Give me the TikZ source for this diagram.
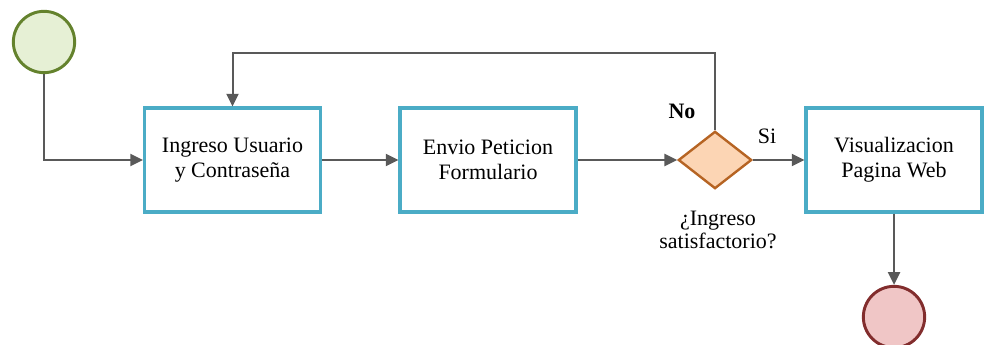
\documentclass[tikz,border=0pt]{standalone}
\usepackage{fontspec}
\setmainfont{Liberation Serif}
\newfontfamily\diagfont{Liberation Serif}
\usetikzlibrary{shapes.geometric,arrows.meta}

\definecolor{startfill}{RGB}{230,240,213}
\definecolor{startline}{RGB}{100,130,45}
\definecolor{taskline}{RGB}{75,172,198}
\definecolor{gatefill}{RGB}{252,213,180}
\definecolor{gateline}{RGB}{182,100,35}
\definecolor{endfill}{RGB}{240,198,198}
\definecolor{endline}{RGB}{130,45,45}
\definecolor{flowgray}{RGB}{89,89,89}

\tikzset{every picture/.style={line width=0.75pt}}
\tikzset{
  evstart/.style={circle,draw=startline,fill=startfill,line width=2.2pt,minimum size=46pt,inner sep=0pt},
  evend/.style={circle,draw=endline,fill=endfill,line width=2.2pt,minimum size=46pt,inner sep=0pt},
  task/.style={rectangle,draw=taskline,fill=white,line width=2.3pt,minimum width=132pt,minimum height=78pt,align=center,font=\diagfont\fontsize{16.5}{18.8}\selectfont},
  gate/.style={diamond,draw=gateline,fill=gatefill,line width=1.8pt,minimum width=55pt,minimum height=43pt,inner sep=0pt},
  flow/.style={draw=flowgray,line width=1.5pt,-{Triangle[length=9.5pt,width=9pt]}},
  lbl/.style={font=\diagfont\fontsize{16.5}{18}\selectfont,align=center}
}

\begin{document}
\begin{tikzpicture}[x=0.75pt,y=0.75pt,yscale=-1,xscale=1]
	\useasboundingbox (0,0) rectangle (984,345);

	% Events
	\node[evstart] (start) at (44,42) {};
	\node[evend] (fin) at (894,317) {};

	% Tasks
	\node[task] (usuario) at (232.5,160) {Ingreso Usuario\\y Contraseña};
	\node[task] (envio) at (488,160) {Envio Peticion\\Formulario};
	\node[task] (visual) at (894,160) {Visualizacion\\Pagina Web};

	% Gateway
	\node[gate] (ingreso) at (715,160) {};

	% Text Nodes
	\node[lbl,font=\diagfont\bfseries\fontsize{16.5}{18}\selectfont] (lno) at (682,111) {No};
	\node[lbl] (lsi) at (767,136) {Si};
	\node[lbl,font=\diagfont\fontsize{16.5}{17.8}\selectfont] (lpreg) at (718,230) {¿Ingreso\\satisfactorio?};

	% Flows
	\draw[flow] (start.south) |- (usuario.west);
	\draw[flow] (usuario.east) -- (envio.west);
	\draw[flow] (envio.east) -- (ingreso.west);
	\draw[flow] (ingreso.east) -- (visual.west);
	\draw[flow] (ingreso.north) -- ++(0,-77) -| (usuario.north);
	\draw[flow] (visual.south) -- (fin.north);

\end{tikzpicture}
\end{document}
